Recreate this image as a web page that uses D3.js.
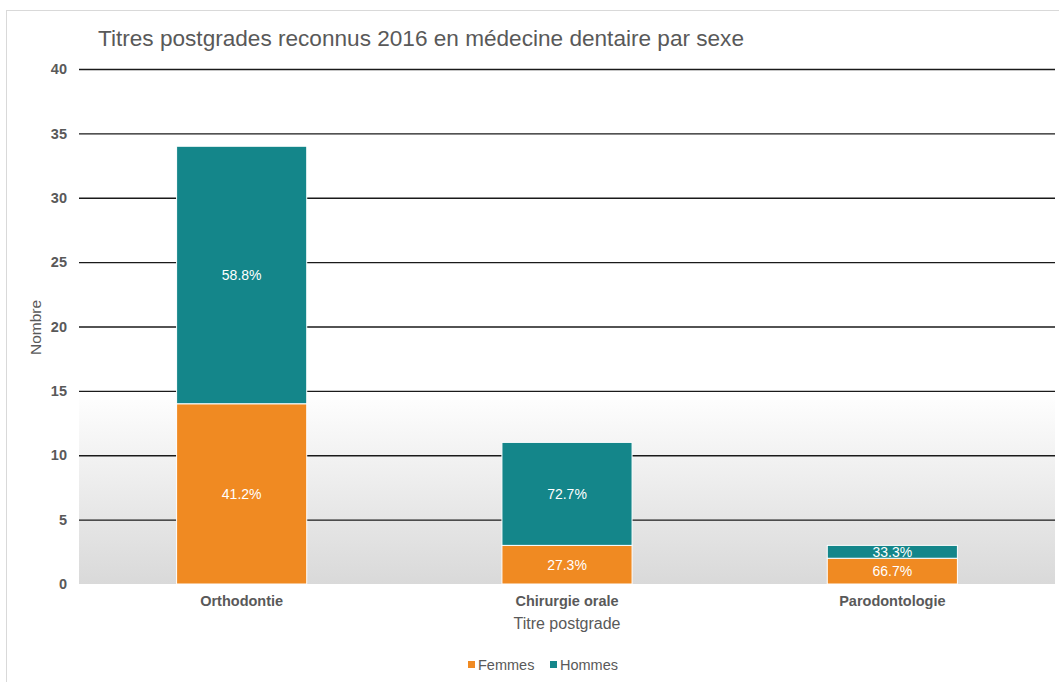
<!DOCTYPE html>
<html>
<head>
<meta charset="utf-8">
<script src="https://cdn.jsdelivr.net/npm/d3@7"></script>
<style>
  body { margin: 0; background: #fff; }
  text { font-family: "Liberation Sans", Arial, sans-serif; fill: #595959; }
  .tick-label { font-weight: bold; font-size: 14.5px; }
  .seg-label { fill: #fff; font-size: 14px; }
</style>
</head>
<body>
<svg id="chart"></svg>
<script>
// data
const categories = ['Orthodontie', 'Chirurgie orale', 'Parodontologie'];
const femmes = [14, 3, 2];
const hommes = [20, 8, 1];
const femmesPct = ['41.2%', '27.3%', '66.7%'];
const hommesPct = ['58.8%', '72.7%', '33.3%'];
const yTicks = [0, 5, 10, 15, 20, 25, 30, 35, 40];
const seriesNames = ['Femmes', 'Hommes'];
const colors = ['#f08a22', '#14868a'];

const width = 1059, height = 682;
const margin = {top: 69, right: 4, bottom: 98, left: 79};
const innerW = width - margin.left - margin.right;
const innerH = height - margin.top - margin.bottom;

const svg = d3.select('#chart')
    .attr('width', width)
    .attr('height', height);

// outer frame
svg.append('rect')
    .attr('x', 6.5).attr('y', 10.5)
    .attr('width', width).attr('height', height)
    .attr('fill', 'none')
    .attr('stroke', '#d9d9d9');

const defs = svg.append('defs');
const grad = defs.append('linearGradient')
    .attr('id', 'bg').attr('x1', 0).attr('y1', 0).attr('x2', 0).attr('y2', 1);
grad.append('stop').attr('offset', '0%').attr('stop-color', '#ffffff');
grad.append('stop').attr('offset', '100%').attr('stop-color', '#d9d9d9');

const chart = svg.append('g')
    .attr('transform', `translate(${margin.left},${margin.top})`);

const x = d3.scaleBand()
    .domain(categories)
    .range([0, innerW])
    .paddingInner(0.6)
    .paddingOuter(0.3);

const y = d3.scaleLinear()
    .domain([0, 40])
    .range([innerH, 0]);

// shaded lower band of the plot area
chart.append('rect')
    .attr('x', 0).attr('y', y(15))
    .attr('width', innerW).attr('height', y(0) - y(15))
    .attr('fill', 'url(#bg)');

// gridlines + y tick labels
const yAxis = d3.axisLeft(y)
    .tickValues(yTicks.filter(d => d > 0))
    .tickSize(-innerW)
    .tickPadding(12)
    .tickFormat(d3.format('d'));

chart.append('g')
    .call(yAxis)
    .call(g => g.select('.domain').remove())
    .call(g => g.selectAll('line').attr('stroke', '#1a1a1a').attr('stroke-width', 1.3))
    .call(g => g.selectAll('text').attr('class', 'tick-label').attr('fill', '#595959'));

// zero label (no line)
chart.append('text')
    .attr('class', 'tick-label')
    .attr('x', -12).attr('y', y(0))
    .attr('dy', '0.32em')
    .attr('text-anchor', 'end')
    .text('0');

// stacked bars
const rows = categories.map((c, i) => ({cat: c, Femmes: femmes[i], Hommes: hommes[i], i}));
const stack = d3.stack().keys(seriesNames)(rows);
const pcts = [femmesPct, hommesPct];

stack.forEach((layer, k) => {
  const g = chart.append('g');
  g.selectAll('rect')
    .data(layer)
    .join('rect')
      .attr('x', d => x(d.data.cat))
      .attr('y', d => y(d[1]))
      .attr('width', x.bandwidth())
      .attr('height', d => y(d[0]) - y(d[1]))
      .attr('fill', colors[k])
      .attr('stroke', '#ffffff')
      .attr('stroke-width', 1);
  g.selectAll('text')
    .data(layer)
    .join('text')
      .attr('class', 'seg-label')
      .attr('x', d => x(d.data.cat) + x.bandwidth() / 2)
      .attr('y', d => (y(d[0]) + y(d[1])) / 2)
      .attr('dy', '0.35em')
      .attr('text-anchor', 'middle')
      .text(d => pcts[k][d.data.i]);
});

// x category labels
chart.append('g')
  .selectAll('text')
  .data(categories)
  .join('text')
    .attr('class', 'tick-label')
    .attr('x', d => x(d) + x.bandwidth() / 2)
    .attr('y', innerH + 22)
    .attr('text-anchor', 'middle')
    .text(d => d);

// axis titles
svg.append('text')
    .attr('x', margin.left + x('Chirurgie orale') + x.bandwidth() / 2)
    .attr('y', 629)
    .attr('text-anchor', 'middle')
    .style('font-size', '16px')
    .text('Titre postgrade');

svg.append('text')
    .attr('transform', `translate(41,${margin.top + y(20) + 1}) rotate(-90)`)
    .attr('text-anchor', 'middle')
    .style('font-size', '15.5px')
    .text('Nombre');

// title
svg.append('text')
    .attr('x', 98).attr('y', 46)
    .style('font-size', '22.6px')
    .text('Titres postgrades reconnus 2016 en médecine dentaire par sexe');

// legend
const legend = svg.append('g').attr('transform', 'translate(468,665)');
const legendX = [0, 82];
seriesNames.forEach((s, i) => {
  const lg = legend.append('g').attr('transform', `translate(${legendX[i]},0)`);
  lg.append('rect')
    .attr('x', 0).attr('y', -4)
    .attr('width', 7).attr('height', 7)
    .attr('fill', colors[i]);
  lg.append('text')
    .attr('x', 10).attr('y', 0)
    .attr('dy', '0.35em')
    .style('font-size', '14.5px')
    .text(s);
});
</script>
</body>
</html>
